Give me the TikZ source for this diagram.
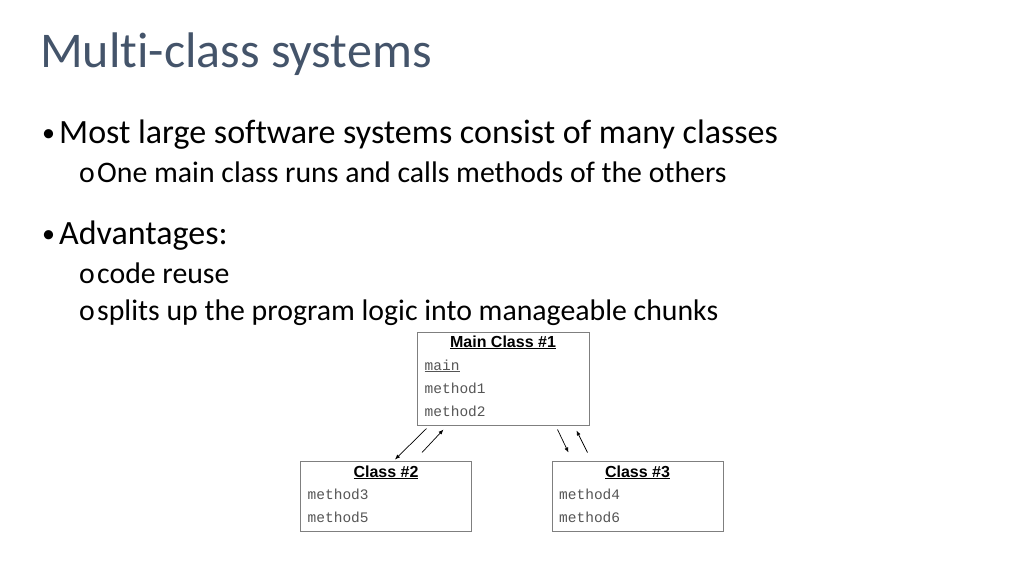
\documentclass[tikz,border=0pt]{standalone}
\usepackage{fontspec}
\setmainfont{Carlito}[Ligatures=NoCommon]
\newfontfamily\boxsans{Liberation Sans}
\newfontfamily\boxmono{Liberation Mono}
\usetikzlibrary{calc, arrows.meta}
\definecolor{titlegray}{HTML}{44546A}
\definecolor{boxline}{HTML}{7F7F7F}
\definecolor{methgray}{HTML}{555555}

\begin{document}
\begin{tikzpicture}[x=1pt, y=-1pt,
  line/.style={anchor=base west, inner sep=0pt},
  big/.style={line, font=\fontsize{34}{36}\selectfont},
  small/.style={line, font=\fontsize{29.8}{31}\selectfont},
  dot/.style={line, font=\fontsize{26}{27}\selectfont},
  classbox/.style={draw=boxline, line width=1pt, minimum width=171pt, inner sep=0pt},
  hdr/.style={anchor=base, inner sep=0pt, font=\boxsans\bfseries\fontsize{16}{17}\selectfont},
  meth/.style={anchor=base west, inner sep=0pt, text=methgray, font=\boxmono\fontsize{14.5}{15}\selectfont},
  call/.style={-{Latex[length=5pt,width=4pt]}, line width=0.7pt}]
\useasboundingbox (0,0) rectangle (1024,576);

\node[line, text=titlegray, font=\fontsize{50}{52}\selectfont] (title) at (40,67) {Multi-class systems};

\node[dot] (dot1) at (42,141) {•};
\node[big] (most) at (59,143) {Most large software systems consist of many classes};
\node[small] (o1) at (79,182) {o};
\node[small] (one) at (97,182) {One main class runs and calls methods of the others};
\node[dot] (dot2) at (42,242) {•};
\node[big] (adv) at (59,244) {Advantages:};
\node[small] (o2) at (79,283) {o};
\node[small] (reuse) at (97,283) {code reuse};
\node[small] (o3) at (79,320) {o};
\node[small] (split) at (97,320) {splits up the program logic into manageable chunks};

% class boxes
\node[classbox, minimum width=172pt, minimum height=93pt] (main) at (503,378.5) {};
\node[classbox, minimum height=70pt] (cls2) at (386,496) {};
\node[classbox, minimum height=70pt] (cls3) at (637.5,496) {};

\node[hdr] (mainhdr) at ($(main.north)+(0,15.5)$) {\underline{Main Class \#1}};
\node[meth] (mmain) at ($(main.north west)+(8,38.5)$) {\underline{main}};
\node[meth] (m1) at ($(main.north west)+(8,61.5)$) {method1};
\node[meth] (m2) at ($(main.north west)+(8,84.5)$) {method2};

\node[hdr] (hdr2) at ($(cls2.north)+(0,16.5)$) {\underline{Class \#2}};
\node[meth] (m3) at ($(cls2.north west)+(7.5,39)$) {method3};
\node[meth] (m5) at ($(cls2.north west)+(7.5,62)$) {method5};

\node[hdr] (hdr3) at ($(cls3.north)+(0,16.5)$) {\underline{Class \#3}};
\node[meth] (m4) at ($(cls3.north west)+(7.5,39)$) {method4};
\node[meth] (m6) at ($(cls3.north west)+(7.5,62)$) {method6};

% calls
\draw[call] ($(main.south west)+(10,3)$) -- ($(cls2.north west)+(95,-1)$);
\draw[call] ($(cls2.north west)+(122,-8)$) -- ($(main.south west)+(27,4)$);
\draw[call] ($(main.south east)+(-32,4)$) -- ($(cls3.north west)+(17,-8)$);
\draw[call] ($(cls3.north west)+(36,-8)$) -- ($(main.south east)+(-13,5)$);
\end{tikzpicture}
\end{document}
